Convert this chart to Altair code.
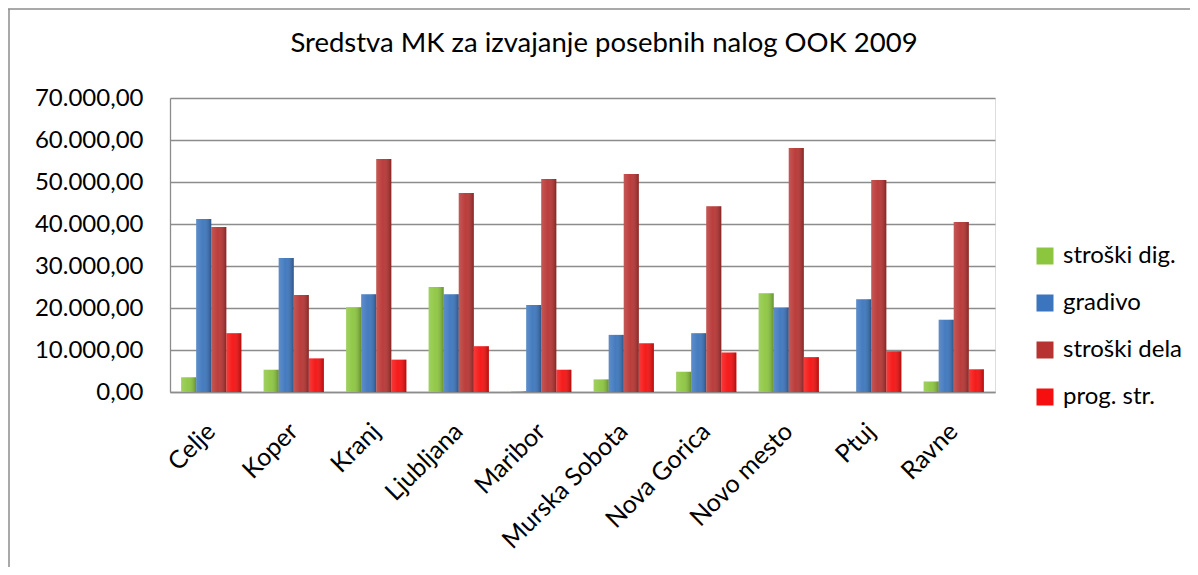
import altair as alt
import pandas as pd

categories = ["Celje", "Koper", "Kranj", "Ljubljana", "Maribor",
              "Murska Sobota", "Nova Gorica", "Novo mesto", "Ptuj", "Ravne"]
series = ["stroški dig.", "gradivo", "stroški dela", "prog. str."]
stroski_dig = [3500, 5300, 20200, 25000, 200, 3000, 4800, 23500, 0, 2500]
gradivo = [41200, 31900, 23300, 23300, 20700, 13600, 14000, 20100, 22100, 17200]
stroski_dela = [39300, 23100, 55500, 47400, 50700, 51900, 44200, 58100, 50500, 40500]
prog_str = [14000, 8000, 7700, 10900, 5300, 11600, 9400, 8300, 9700, 5400]
colors = ["#8CC63F", "#3B75BD", "#B73331", "#F50F0F"]
y_ticks = [0, 10000, 20000, 30000, 40000, 50000, 60000, 70000]
title_text = "Sredstva MK za izvajanje posebnih nalog OOK 2009"

rows = []
for i, c in enumerate(categories):
    for s, vals in zip(series, [stroski_dig, gradivo, stroski_dela, prog_str]):
        rows.append({"kraj": c, "serija": s, "vrednost": vals[i]})
df = pd.DataFrame(rows)

W, H = 825, 294
FONT = "Lato"

x_enc = alt.X("kraj:N", sort=categories,
              scale=alt.Scale(paddingInner=0.27, paddingOuter=0.135),
              axis=alt.Axis(title=None, labelAngle=-45, labelAlign="right",
                            labelBaseline="middle", labelPadding=35,
                            labelFontSize=25, labelFont=FONT, labelColor="#000",
                            ticks=False, domainColor="#8c8c8c", domainWidth=1.3,
                            labelOverlap=False, labelLimit=400))
xo_enc = alt.XOffset("serija:N", sort=series, scale=alt.Scale(paddingInner=0, paddingOuter=0))
y_enc = alt.Y("vrednost:Q",
              scale=alt.Scale(domain=[0, 70000], nice=False),
              axis=alt.Axis(title=None, values=y_ticks, tickSize=0, labelPadding=27,
                            labelFontSize=24, labelFont=FONT, labelColor="#000",
                            labelExpr="replace(replace(replace(format(datum.value, ',.2f'), regexp(',', 'g'), 'X'), regexp('\\\\.', 'g'), ','), regexp('X', 'g'), '.')",
                            gridColor="#8c8c8c", gridWidth=1.3,
                            domainColor="#8c8c8c", domainWidth=1.3))

base = alt.Chart(df)
bars = base.mark_bar().encode(
    x=x_enc, xOffset=xo_enc, y=y_enc,
    color=alt.Color("serija:N", sort=series,
                    scale=alt.Scale(domain=series, range=colors),
                    legend=alt.Legend(title=None, orient="none", legendX=863, legendY=146,
                                      symbolType="square", symbolSize=289,
                                      symbolStrokeWidth=0, labelFontSize=24,
                                      labelFont=FONT, labelColor="#000",
                                      rowPadding=23, labelOffset=6, labelLimit=300)),
)
shade = base.mark_bar(fill=alt.Gradient(
    gradient="linear", x1=0, x2=1, y1=0, y2=0,
    stops=[alt.GradientStop(offset=0, color="rgba(255,255,255,0.18)"),
           alt.GradientStop(offset=0.45, color="rgba(255,255,255,0.05)"),
           alt.GradientStop(offset=1, color="rgba(0,0,0,0.28)")])).encode(
    x=alt.X("kraj:N", sort=categories), xOffset=alt.XOffset("serija:N", sort=series), y="vrednost:Q")

title_df = pd.DataFrame({"t": [title_text]})
title = alt.Chart(title_df).mark_text(font=FONT, fontSize=27.5, color="#000", align="center",
                                      baseline="alphabetic", clip=False).encode(
    text="t:N", x=alt.value(434), y=alt.value(-46))

frame_df = pd.DataFrame({"k": [0]})
top_line = alt.Chart(frame_df).mark_rule(color="#8c8c8c", strokeWidth=1.5, clip=False).encode(
    x=alt.value(-162), x2=alt.value(W + 220), y=alt.value(-89))
left_line = alt.Chart(frame_df).mark_rule(color="#8c8c8c", strokeWidth=1.5, clip=False).encode(
    x=alt.value(-161), y=alt.value(-89), y2=alt.value(H + 200))

chart = alt.layer(bars, shade, title, top_line, left_line).properties(
    width=W, height=H,
    autosize=alt.AutoSizeParams(type="none"),
    padding={"left": 162, "top": 90, "right": 195, "bottom": 175},
).configure_view(stroke=None).configure(background="white")

chart.save("out.html", embed_options={"renderer": "svg", "actions": False})
